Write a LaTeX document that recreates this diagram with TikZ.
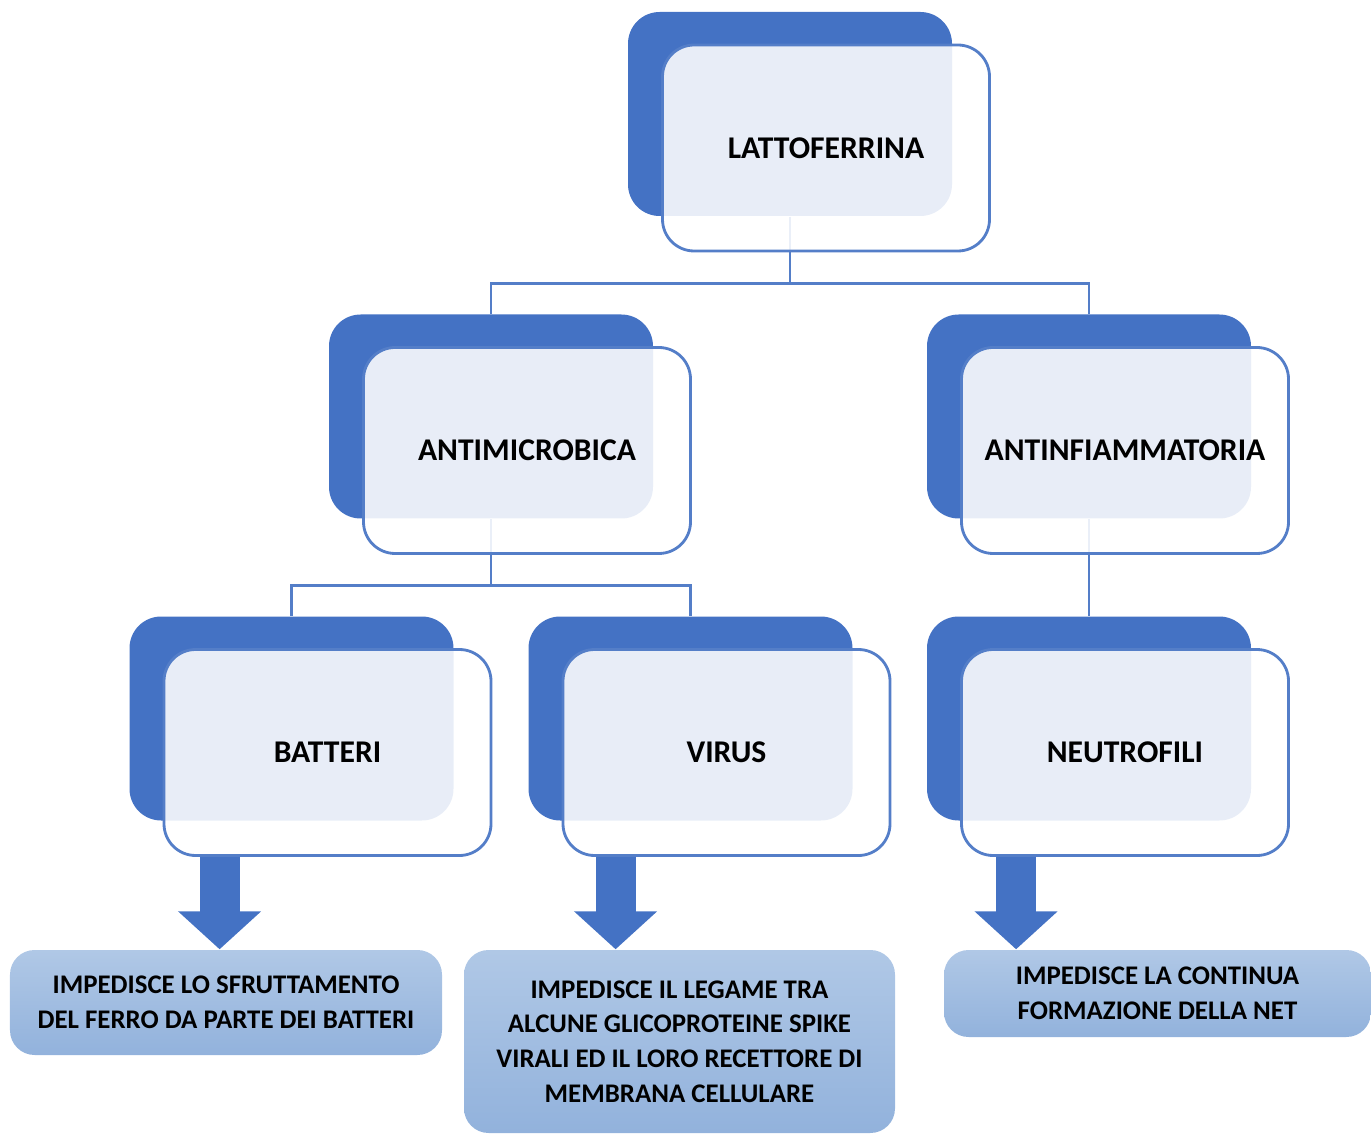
\documentclass[tikz,border=0pt]{standalone}
\usepackage{fontspec}
\setmainfont{Carlito}
\definecolor{lfblue}{RGB}{68,114,196}
\definecolor{lfline}{RGB}{84,126,200}
\definecolor{lftop}{RGB}{176,200,230}
\definecolor{lfbot}{RGB}{146,178,220}
\usetikzlibrary{arrows.meta,positioning,calc}

\begin{document}
\begin{tikzpicture}[font=\fontsize{9}{11}\selectfont\bfseries]
    \tikzset{darkcard/.style={rectangle, rounded corners=9pt, minimum width=3.24cm,
      minimum height=2.04cm, fill=lfblue},
      lightcard/.style={rectangle, rounded corners=9pt, minimum width=3.27cm,
      minimum height=2.06cm, draw=lfline, line width=0.8pt, fill=white,
      fill opacity=0.88, text opacity=1, text centered},
      resultcard/.style={rectangle, rounded corners=7pt, align=center,
      top color=lftop, bottom color=lfbot, inner sep=0pt,
      font=\fontsize{7.65}{9.9}\selectfont\bfseries},
      link/.style={draw=lfline, line width=0.8pt},
      bigarrow/.style={draw=lfblue, line width=0.4cm,
      -{Triangle[length=0.38cm, width=0.81cm]}}}
    \useasboundingbox (0,0) rectangle (13.71,-11.35);

    % dark back cards
    \node[darkcard] (d0) at (7.90,-1.14) {};
    \node[darkcard] (d1) at (4.91,-4.165) {};
    \node[darkcard] (d2) at (10.89,-4.165) {};
    \node[darkcard] (d3) at (2.915,-7.185) {};
    \node[darkcard] (d4) at (6.905,-7.185) {};
    \node[darkcard] (d5) at (10.89,-7.185) {};

    % tree links
    \draw[link] (d0.south) -- ++(0,-0.67) coordinate (j0) -| (d1.north);
    \draw[link] (j0) -| (d2.north);
    \draw[link] (d1.south) -- ++(0,-0.66) coordinate (j1) -| (d3.north);
    \draw[link] (j1) -| (d4.north);
    \draw[link] (d2.south) -- (d5.north);

    % front cards
    \node[lightcard] (l0) at ($(d0)+(0.36,-0.34)$) {LATTOFERRINA};
    \node[lightcard] (l1) at ($(d1)+(0.36,-0.34)$) {ANTIMICROBICA};
    \node[lightcard] (l2) at ($(d2)+(0.36,-0.34)$) {ANTINFIAMMATORIA};
    \node[lightcard] (l3) at ($(d3)+(0.36,-0.34)$) {BATTERI};
    \node[lightcard] (l4) at ($(d4)+(0.36,-0.34)$) {VIRUS};
    \node[lightcard] (l5) at ($(d5)+(0.36,-0.34)$) {NEUTROFILI};

    % results
    \node[resultcard, minimum width=4.32cm, minimum height=1.05cm] (r1) at (2.26,-10.025)
      {IMPEDISCE LO SFRUTTAMENTO\\ DEL FERRO DA PARTE DEI BATTERI};
    \node[resultcard, minimum width=4.31cm, minimum height=1.83cm] (r2) at (6.795,-10.415)
      {IMPEDISCE IL LEGAME TRA\\ ALCUNE GLICOPROTEINE SPIKE\\ VIRALI ED IL LORO RECETTORE DI\\ MEMBRANA CELLULARE};
    \node[resultcard, minimum width=4.27cm, minimum height=0.87cm] (r3) at (11.575,-9.935)
      {IMPEDISCE LA CONTINUA\\ FORMAZIONE DELLA NET};

    % block arrows
    \draw[bigarrow] ([xshift=0.57cm]l3.south west) -- ([xshift=0.57cm]l3.south west |- r1.north);
    \draw[bigarrow] ([xshift=0.54cm]l4.south west) -- ([xshift=0.54cm]l4.south west |- r2.north);
    \draw[bigarrow] ([xshift=0.56cm]l5.south west) -- ([xshift=0.56cm]l5.south west |- r3.north);
  \end{tikzpicture}
\end{document}
